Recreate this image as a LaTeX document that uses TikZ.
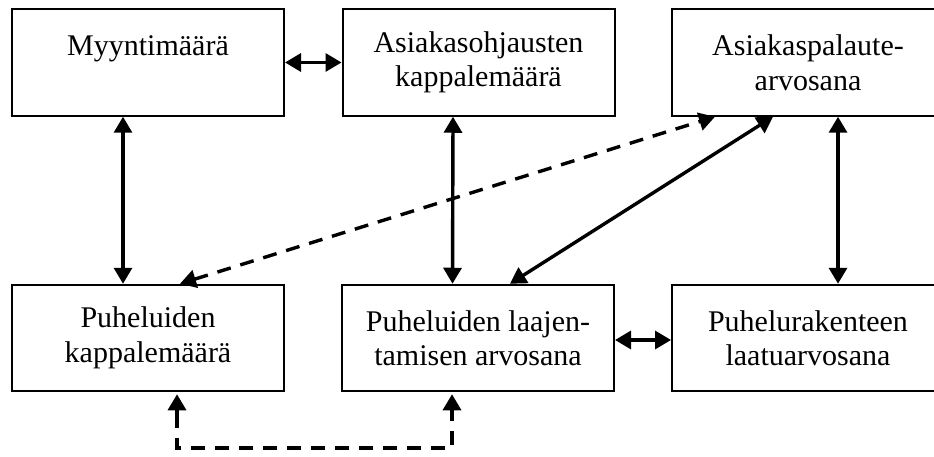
\documentclass[tikz,border=0pt]{standalone}
\usepackage{fontspec}
\setmainfont{Liberation Serif}
\usetikzlibrary{arrows.meta}
\begin{document}
\begin{tikzpicture}[x=1pt,y=-1pt,
  box/.style={draw=black, line width=2pt, fill=white, minimum width=272pt, minimum height=106.5pt,
    inner sep=0pt, align=center, font=\fontsize{30}{34.5}\selectfont},
  conn/.style={line width=3.4pt, black, {Triangle[length=16pt,width=18pt]}-{Triangle[length=16pt,width=18pt]}},
  dashconn/.style={conn, dash pattern=on 14pt off 10pt},
  oneway/.style={line width=3.4pt, black, -{Triangle[length=16pt,width=18pt]}}
]
\useasboundingbox (0,0) rectangle (934,457);
\clip (0,0) rectangle (934,457);
\node[box] (b1) at (148,62.5) {Myyntimäärä\\\phantom{x}};
\node[box] (b2) at (478.5,62.5) {Asiakasohjausten\\kappalemäärä};
\node[box] (b3) at (808,62.5) {Asiakaspalaute-\\arvosana};
\node[box] (b4) at (148,338) {Puheluiden\\kappalemäärä};
\node[box] (b5) at (478,338) {Puheluiden laajen-\\tamisen arvosana};
\node[box] (b6) at (808,338) {Puhelurakenteen\\laatuarvosana};
\coordinate (e1) at (177,448);
\coordinate (e2) at (452,448);
\draw[conn] (b1.east) -- (b2.west);
\draw[conn] ([xshift=-25pt]b1.south) -- ([xshift=-25pt]b4.north);
\draw[conn] ([xshift=-25.5pt]b2.south) -- ([xshift=-25.5pt]b5.north);
\draw[conn] ([xshift=30pt]b3.south) -- ([xshift=30pt]b6.north);
\draw[conn] ([yshift=-2pt]b5.east) -- ([yshift=-2pt]b6.west);
\draw[dashconn] ([xshift=32pt]b4.north) -- ([xshift=-93pt]b3.south);
\draw[conn] ([xshift=32pt]b5.north) -- ([xshift=-35pt]b3.south);
\draw[line width=3.4pt, dash pattern=on 14pt off 10pt] ([xshift=29pt,yshift=-22pt]b4.south) |- (e1) -- (e2) -- ([xshift=-26pt,yshift=-22pt]b5.south);
\draw[oneway] ([xshift=29pt,yshift=-24pt]b4.south) -- ([xshift=29pt,yshift=-2pt]b4.south);
\draw[oneway] ([xshift=-26pt,yshift=-24pt]b5.south) -- ([xshift=-26pt,yshift=-2pt]b5.south);
\end{tikzpicture}
\end{document}
